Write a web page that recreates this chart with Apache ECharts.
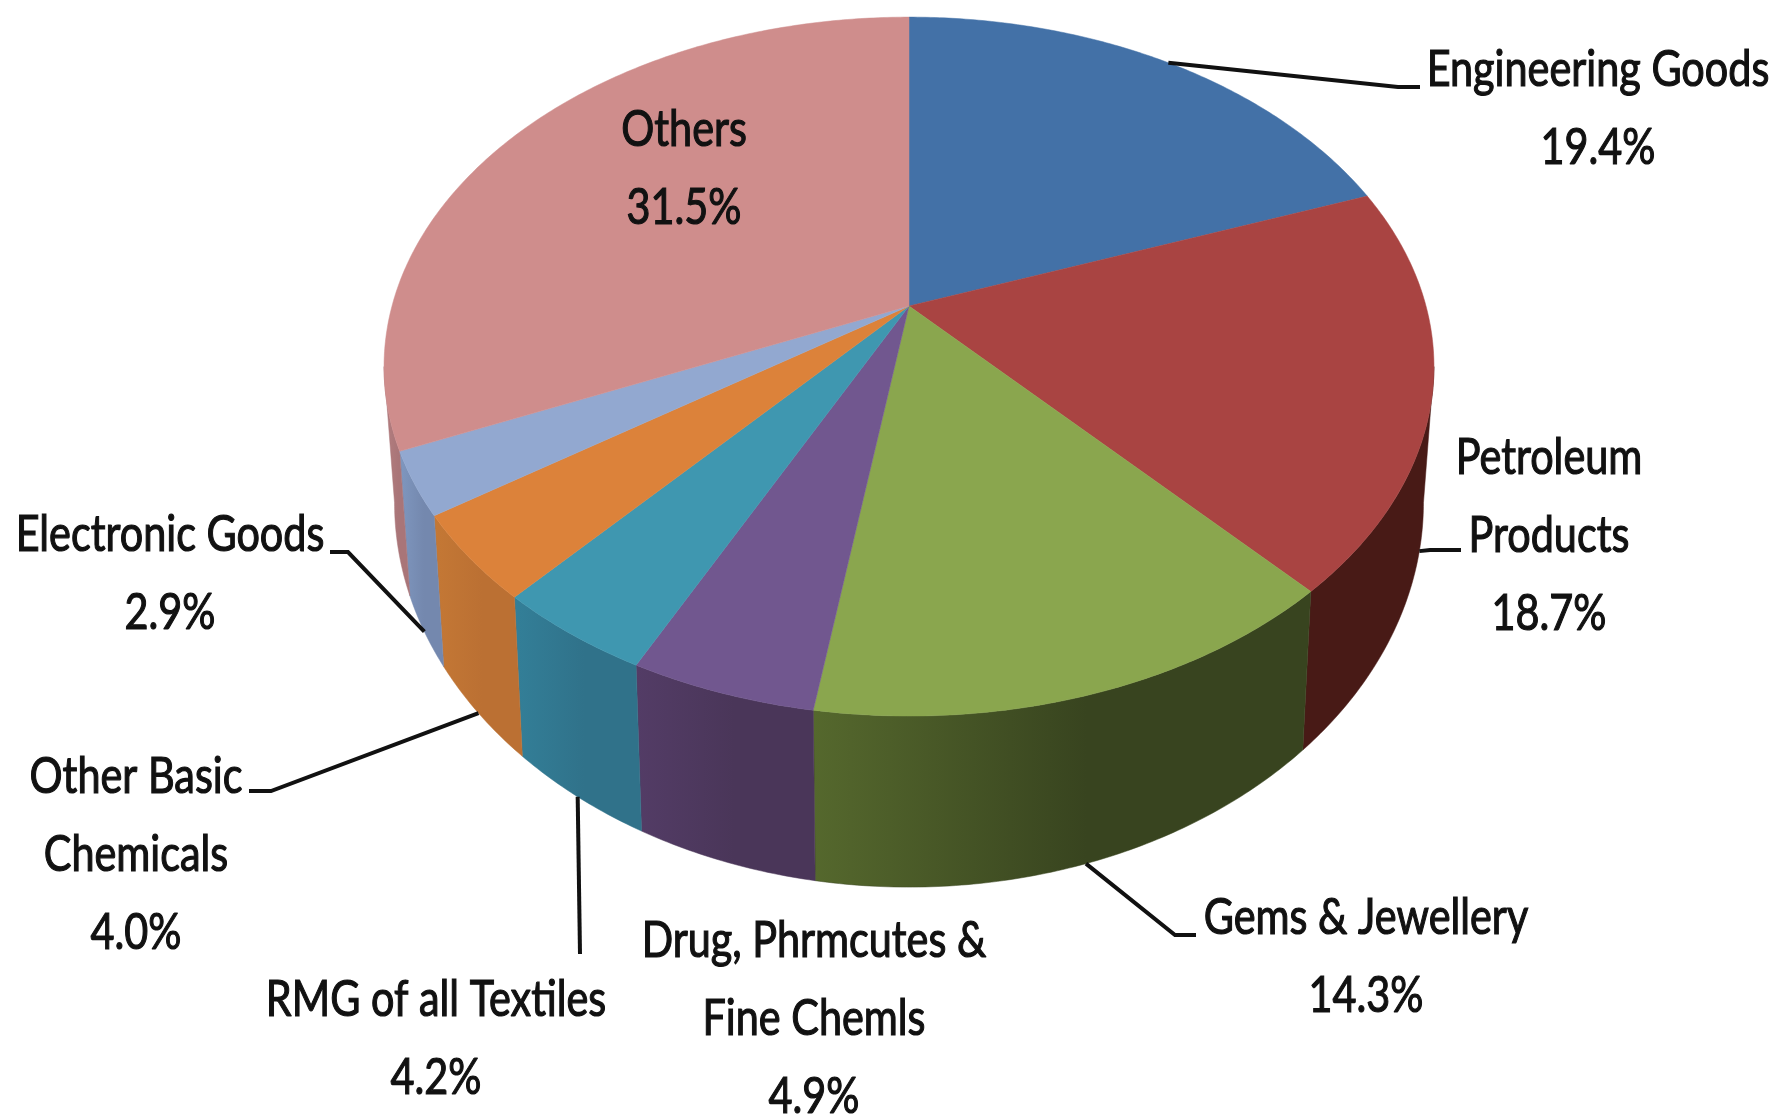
<!DOCTYPE html>
<html>
<head>
<meta charset="utf-8">
<title>Export share</title>
<script src="https://cdn.jsdelivr.net/npm/echarts@6/dist/echarts.min.js"></script>
<style>
html, body { margin: 0; padding: 0; background: #fff; }
#myChart { width: 1777px; height: 1114px; }
</style>
</head>
<body>
<div id="myChart"></div>
<script>
const names = ['Engineering Goods', 'Petroleum\nProducts', 'Gems & Jewellery', 'Drug, Phrmcutes &\nFine Chemls',
  'RMG of all Textiles', 'Other Basic\nChemicals', 'Electronic Goods', 'Others']
const shares = [19.4, 18.7, 14.3, 4.9, 4.2, 4.0, 2.9, 31.5]

const topColors = ['#4371a7', '#a94442', '#8aa64e', '#71578f', '#3f97b0', '#dc823a', '#92a8d0', '#cf8d8c']
const wallLeft = ['#2f5078', '#481a16', '#55682d', '#533c66', '#337f98', '#c47835', '#7f97bf', '#b57f80']
const wallRight = ['#2f5078', '#481a16', '#38441f', '#4a3659', '#30728a', '#bb7033', '#7488ae', '#a97578']

// pixel layout of the labels, leader lines and the pie itself
const labelCenters = [[1598, 109], [1549, 536], [1366, 957], [814, 1019], [436, 1039], [136, 855], [170, 574], [684, 169]]
const leaderBends = [
  [[1398, 87], [1420, 87]],
  [[1430, 550], [1461, 550]],
  [[1175, 935], [1196, 935]],
  null,
  [[580, 954]],
  [[271, 791], [249, 791]],
  [[348, 552], [330, 552]],
  null
]
// radians added to the slice middle where a leader leaves the rim
const leaderNudge = [0, 0.06, 0, 0, 0, 0, 0, 0]
const labelFont = 'Lato'
const labelScaleX = 0.827

const apexX = 909
const apexY = 306
const radiusX = 517
const radiusUp = 339
const tilt = 0.1734
const wallDrop = 130
const wallScaleX = 0.98
const wallScaleY = 1.1

const total = shares.reduce((a, b) => a + b, 0)
const wallFrom = Math.acos(-tilt)
const wallTo = 2 * Math.PI - wallFrom

function sliceRange(i) {
  const before = shares.slice(0, i).reduce((a, b) => a + b, 0)
  return [before / total * 2 * Math.PI, (before + shares[i]) / total * 2 * Math.PI]
}

// the disc is a circle seen in perspective, so the centre sits above the middle of the ellipse
function rimTop(angle) {
  const u = Math.sin(angle)
  const v = Math.cos(angle)
  const w = 1 + tilt * v
  return [apexX + radiusX * u / w, apexY - radiusUp * v / w]
}

function rimBottom(angle) {
  const p = rimTop(angle)
  return [apexX + wallScaleX * (p[0] - apexX), apexY + wallDrop + wallScaleY * (p[1] - apexY)]
}

function arcPoints(from, to, rim) {
  const steps = Math.max(2, Math.ceil((to - from) / 0.01))
  const pts = []
  for (let s = 0; s <= steps; s++) {
    pts.push(rim(from + (to - from) * s / steps))
  }
  return pts
}

function renderWall(params) {
  const i = params.dataIndex
  const range = sliceRange(i)
  const from = Math.max(range[0], wallFrom)
  const to = Math.min(range[1], wallTo)
  if (to <= from) {
    return null
  }
  const points = arcPoints(from, to, rimTop).concat(arcPoints(from, to, rimBottom).reverse())
  return {
    type: 'polygon',
    shape: { points: points },
    style: {
      fill: new echarts.graphic.LinearGradient(0, 0, 1, 0, [
        { offset: 0, color: wallLeft[i] },
        { offset: 0.55, color: wallRight[i] },
        { offset: 1, color: wallRight[i] }
      ]),
      stroke: wallRight[i],
      lineWidth: 0.5
    }
  }
}

function renderTop(params) {
  const i = params.dataIndex
  const range = sliceRange(i)
  const points = [[apexX, apexY]].concat(arcPoints(range[0], range[1], rimTop))
  return {
    type: 'polygon',
    shape: { points: points },
    style: { fill: topColors[i], stroke: topColors[i], lineWidth: 0.5 }
  }
}

function renderLabel(params) {
  const i = params.dataIndex
  const children = [{
    type: 'text',
    x: labelCenters[i][0],
    y: labelCenters[i][1],
    scaleX: labelScaleX,
    style: {
      text: names[i] + '\n' + shares[i].toFixed(1) + '%',
      fontFamily: labelFont,
      fontSize: 50,
      lineHeight: 78,
      fill: '#111',
      stroke: '#111',
      lineWidth: 1.2,
      align: 'center',
      verticalAlign: 'middle'
    }
  }]
  if (leaderBends[i]) {
    const range = sliceRange(i)
    const mid = (range[0] + range[1]) / 2 + leaderNudge[i]
    const start = mid > wallFrom && mid < wallTo ? rimBottom(mid) : rimTop(mid)
    children.push({
      type: 'polyline',
      shape: { points: [start].concat(leaderBends[i]) },
      style: { stroke: '#111', lineWidth: 4, fill: 'none' }
    })
  }
  return { type: 'group', children: children }
}

function layer(renderItem, z) {
  return {
    type: 'custom',
    coordinateSystem: 'none',
    renderItem: renderItem,
    data: shares,
    z: z,
    clip: false,
    silent: true
  }
}

const myChart = echarts.init(document.getElementById('myChart'))
myChart.setOption({
  backgroundColor: '#fff',
  animation: false,
  series: [layer(renderWall, 1), layer(renderTop, 2), layer(renderLabel, 3)]
})
</script>
</body>
</html>
